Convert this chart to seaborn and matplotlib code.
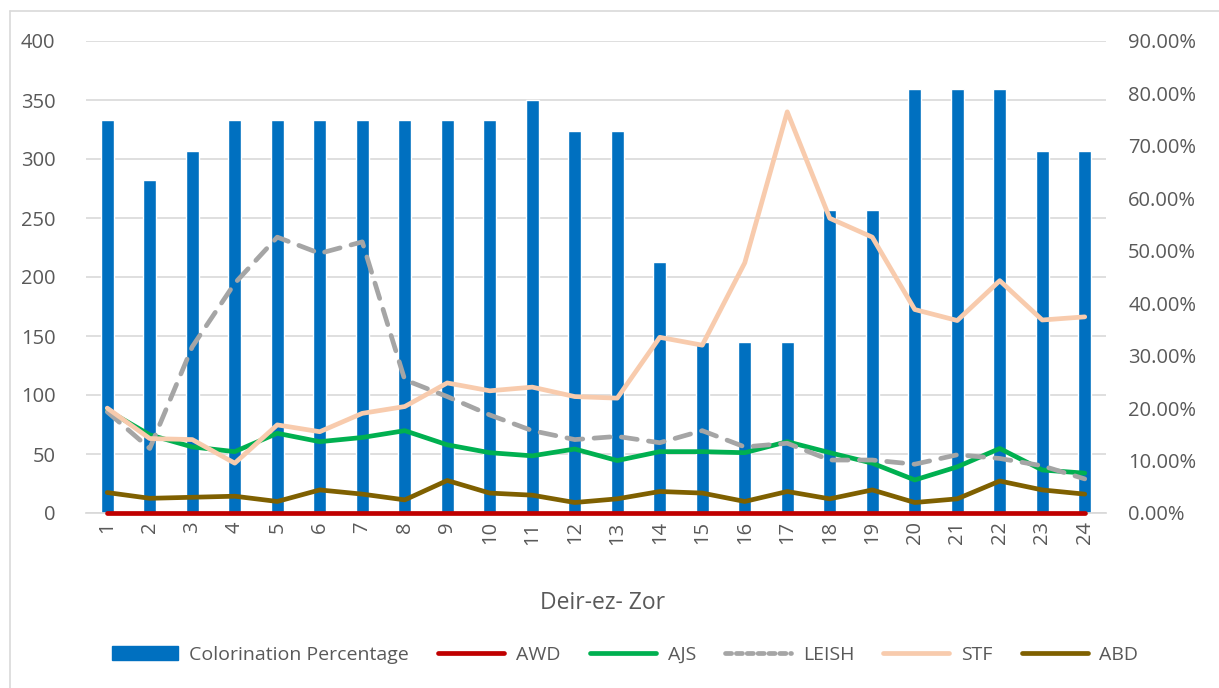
import numpy as np
import pandas as pd
import seaborn as sns
import matplotlib
matplotlib.use("Agg")
from matplotlib import pyplot as plt
from matplotlib.ticker import FuncFormatter, MultipleLocator
from matplotlib.lines import Line2D
from matplotlib.patches import Patch

# data
districts = [str(i) for i in range(1, 25)]
coloration = [333, 282, 307, 333, 333, 333, 333, 333, 333, 333, 350, 324,
              324, 213, 145, 145, 145, 257, 257, 359, 359, 359, 307, 307]
# line series, in percent (right axis)
awd = [0.0] * 24
ajs = [19.6, 14.9, 12.6, 11.7, 15.2, 13.6, 14.4, 15.7, 13.0, 11.5, 10.9, 12.2,
       10.0, 11.7, 11.7, 11.5, 13.6, 11.5, 9.5, 6.3, 8.8, 12.3, 8.2, 7.6]
leish = [19.3, 12.3, 31.7, 43.8, 52.6, 49.5, 51.7, 25.4, 22.2, 18.7, 15.7, 14.0,
         14.6, 13.4, 15.7, 12.6, 13.3, 10.1, 10.1, 9.3, 11.1, 10.4, 9.0, 6.5]
stf = [20.0, 14.2, 14.0, 9.5, 16.8, 15.5, 19.0, 20.3, 24.8, 23.3, 24.0, 22.2,
       21.9, 33.5, 32.0, 47.7, 76.5, 56.2, 52.6, 38.8, 36.7, 44.3, 36.8, 37.4]
abd = [3.9, 2.8, 3.0, 3.2, 2.2, 4.4, 3.6, 2.5, 6.2, 3.8, 3.4, 2.0,
       2.7, 4.1, 3.8, 2.2, 4.1, 2.7, 4.4, 2.0, 2.7, 6.1, 4.4, 3.6]

sns.set_theme(style="white")
plt.rcParams['font.family'] = ['Open Sans', 'DejaVu Sans']
txt = '#595959'
grid = '#D9D9D9'

fig = plt.figure(figsize=(12.19, 6.88), dpi=100)
ax = fig.add_axes([86/1219, 1-513/688, (1106-86)/1219, (513-41)/688])
ax2 = ax.twinx()

sns.barplot(x=districts, y=coloration, ax=ax, color='#0070C0', saturation=1,
            width=0.31, zorder=2)
ax.set_ylim(0, 400)
ax.set_xlim(-0.5, 23.5)
ax.yaxis.set_major_locator(MultipleLocator(50))
ax.grid(axis='y', color=grid, lw=1.2, zorder=0)
ax.set_axisbelow(True)
ax.set_xlabel('')
ax.set_ylabel('')

pos = np.arange(len(districts))
series = [
    ('AWD', awd, '#C00000', '-'),
    ('AJS', ajs, '#00B050', '-'),
    ('LEISH', leish, '#A5A5A5', '--'),
    ('STF', stf, '#F8CBAD', '-'),
    ('ABD', abd, '#7F6000', '-'),
]
for name, vals, col, ls in series:
    sns.lineplot(x=pos, y=np.array(vals) / 100, ax=ax2, color=col, lw=3.4,
                 solid_capstyle='round')
    ln = ax2.lines[-1]
    ln.set_clip_on(False)
    if ls == '--':
        ln.set_dashes((3.4, 2.4))
        ln.set_dash_capstyle('round')
ax2.lines[0].set_zorder(5)
ax2.set_ylim(0, 0.9)
ax2.yaxis.set_major_locator(MultipleLocator(0.1))
ax2.yaxis.set_major_formatter(FuncFormatter(lambda v, _: f"{v*100:.2f}%"))
ax2.set_xlim(-0.5, 23.5)

for a in (ax, ax2):
    for s in a.spines.values():
        s.set_visible(False)
    a.tick_params(length=0, labelsize=14.5, labelcolor=txt)
ax.spines['bottom'].set_visible(True)
ax.spines['bottom'].set_color(grid)
ax.tick_params(axis='x', labelrotation=90, pad=6)
ax.tick_params(axis='y', pad=22)
ax2.tick_params(axis='y', pad=16)

fig.text(603/1219, 1-603/688, 'Deir-ez- Zor', ha='center', va='center',
         fontsize=16.5, color=txt)

handles = [Patch(color='#0070C0', label='Colorination Percentage')]
for name, vals, col, ls in series:
    if ls == '--':
        handles.append(Line2D([], [], color=col, lw=3.4, dashes=(1.3, 1.0),
                              dash_capstyle='round', label=name))
    else:
        handles.append(Line2D([], [], color=col, lw=3.4,
                              solid_capstyle='round', label=name))
fig.legend(handles=handles, loc='center', bbox_to_anchor=(625/1219, 1-655/688),
           ncol=6, frameon=False, fontsize=14, handlelength=3.4,
           columnspacing=1.5, handletextpad=0.6, labelcolor=txt)

# chart border (left and top edges visible)
fig.add_artist(Line2D([10/1219, 10/1219], [0, 1-11/688], color=grid, lw=1.2))
fig.add_artist(Line2D([10/1219, 1], [1-11/688, 1-11/688], color=grid, lw=1.2))

fig.savefig('out.png', dpi=100)
